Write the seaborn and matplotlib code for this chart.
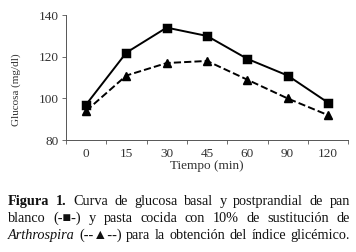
import matplotlib
matplotlib.use("Agg")
import matplotlib.pyplot as plt
import seaborn as sns
import pandas as pd

tiempos = ["0", "15", "30", "45", "60", "90", "120"]
pan_blanco = [97, 122, 134, 130, 119, 111, 98]
pasta_arthrospira = [94, 111, 117, 118, 109, 100, 92]
y_ticks = [80, 100, 120, 140]

sns.set_style("white")
plt.rcParams["font.family"] = ["Liberation Serif", "DejaVu Serif"]

df = pd.DataFrame({
    "Tiempo": tiempos * 2,
    "Glucosa": pan_blanco + pasta_arthrospira,
    "Serie": ["pan"] * len(tiempos) + ["pasta"] * len(tiempos),
})

fig = plt.figure(figsize=(3.56, 2.52), dpi=100)
ax = fig.add_axes([0.185, 0.444, 0.793, 0.496])
sns.pointplot(data=df, x="Tiempo", y="Glucosa", hue="Serie", order=tiempos,
              palette=["black", "black"], markers=["s", "^"],
              linestyles=["-", "--"], markersize=5.5, linewidth=1.4,
              legend=False, ax=ax)
ax.set_xlim(-0.5, len(tiempos) - 0.5)
ax.set_ylim(80, 140)
ax.set_yticks(y_ticks)
ax.set_yticklabels([str(v) for v in y_ticks], fontsize=9.5, color="#333333")
ax.set_xticks(range(len(tiempos)))
ax.set_xticklabels(tiempos, fontsize=9.5, color="#333333")
ax.tick_params(axis="x", length=0, pad=6)
ax.tick_params(axis="y", length=3, width=0.6, color="#555555", left=True, pad=2)
ax.set_xticks([i - 0.5 for i in range(len(tiempos) + 1)], minor=True)
ax.tick_params(axis="x", which="minor", length=3, width=0.6, color="#555555", bottom=True)
for s in ["top", "right"]:
    ax.spines[s].set_visible(False)
for s in ["left", "bottom"]:
    ax.spines[s].set_color("#555555")
    ax.spines[s].set_linewidth(0.7)
ax.set_xlabel("Tiempo (min)", fontsize=9.5, labelpad=0, color="#333333")
ax.set_ylabel("Glucosa (mg/dl)", fontsize=8, color="#333333")
ax.yaxis.set_label_coords(-0.16, 0.4)

# justified caption
lines = [
    [("Figura", "bold"), ("1.", "bold"), ("Curva", "n"), ("de", "n"), ("glucosa", "n"),
     ("basal", "n"), ("y", "n"), ("postprandial", "n"), ("de", "n"), ("pan", "n")],
    [("blanco", "n"), ("(-■-)", "n"), ("y", "n"), ("pasta", "n"), ("cocida", "n"), ("con", "n"),
     ("10%", "n"), ("de", "n"), ("sustitución", "n"), ("de", "n")],
    [("Arthrospira", "it"), ("(--▲--)", "n"), ("para", "n"), ("la", "n"), ("obtención", "n"),
     ("del", "n"), ("índice", "n"), ("glicémico.", "n")],
]
fig.canvas.draw()
renderer = fig.canvas.get_renderer()
W, H = fig.bbox.width, fig.bbox.height
x0, x1 = 8, 350
ys = [205, 222, 239]
fs = 10.3
for words, yp in zip(lines, ys):
    objs = []
    for w, st in words:
        kw = dict(fontsize=fs, color="#111111", va="baseline", ha="left",
                  family=["Liberation Serif", "DejaVu Sans"])
        if st == "bold":
            kw["fontweight"] = "bold"
        if st == "it":
            kw["fontstyle"] = "italic"
        t = fig.text(0, 1 - yp / H, w, **kw)
        objs.append(t)
    widths = [t.get_window_extent(renderer).width for t in objs]
    gap = (x1 - x0 - sum(widths)) / (len(objs) - 1)
    xp = x0
    for t, wd in zip(objs, widths):
        t.set_x(xp / W)
        xp += wd + gap

fig.savefig("out.png", dpi=100)
